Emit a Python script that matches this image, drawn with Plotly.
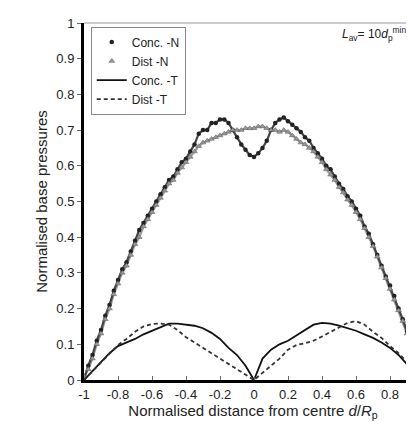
import plotly.graph_objects as go

# x positions
x_n = [round(-1 + 0.025 * i, 3) for i in range(81)]
x_t = [round(-1 + 0.05 * i, 2) for i in range(41)]

conc_n = [0.00, 0.04, 0.07, 0.11, 0.14, 0.18, 0.21, 0.25, 0.28, 0.31,
          0.33, 0.36, 0.39, 0.42, 0.44, 0.46, 0.48, 0.50, 0.52, 0.54,
          0.56, 0.57, 0.59, 0.61, 0.62, 0.64, 0.66, 0.69, 0.70, 0.70,
          0.72, 0.72, 0.73, 0.73, 0.72, 0.70, 0.68, 0.66, 0.645, 0.63,
          0.625, 0.635, 0.65, 0.67, 0.70, 0.72, 0.73, 0.735, 0.725, 0.715,
          0.705, 0.695, 0.68, 0.67, 0.65, 0.635, 0.62, 0.60, 0.59, 0.57,
          0.55, 0.535, 0.515, 0.50, 0.48, 0.46, 0.43, 0.41, 0.38, 0.35,
          0.32, 0.29, 0.265, 0.235, 0.20, 0.17, 0.135, 0.10, 0.065, 0.03,
          0.00]

dist_n = [0.01, 0.03, 0.06, 0.10, 0.13, 0.17, 0.20, 0.24, 0.27, 0.30,
          0.32, 0.35, 0.38, 0.40, 0.43, 0.45, 0.47, 0.49, 0.51, 0.53,
          0.55, 0.56, 0.58, 0.595, 0.61, 0.625, 0.64, 0.655, 0.665, 0.67,
          0.675, 0.68, 0.685, 0.69, 0.695, 0.70, 0.70, 0.70, 0.705, 0.705,
          0.705, 0.71, 0.71, 0.705, 0.70, 0.70, 0.695, 0.70, 0.695, 0.685,
          0.675, 0.665, 0.66, 0.65, 0.64, 0.625, 0.61, 0.59, 0.575, 0.56,
          0.54, 0.525, 0.505, 0.49, 0.47, 0.45, 0.425, 0.40, 0.375, 0.345,
          0.315, 0.285, 0.255, 0.225, 0.195, 0.165, 0.13, 0.095, 0.06, 0.03,
          0.005]

conc_t = [0.00, 0.025, 0.05, 0.075, 0.095, 0.105, 0.115, 0.128, 0.138, 0.15,
          0.158, 0.158, 0.155, 0.152, 0.145, 0.132, 0.115, 0.09, 0.07, 0.04,
          0.00, 0.06, 0.085, 0.10, 0.11, 0.125, 0.14, 0.155, 0.16, 0.158,
          0.152, 0.145, 0.138, 0.128, 0.118, 0.105, 0.09, 0.07, 0.045, 0.018,
          0.00]

dist_t = [0.00, 0.025, 0.05, 0.075, 0.098, 0.115, 0.135, 0.15, 0.157, 0.158,
          0.155, 0.14, 0.12, 0.105, 0.09, 0.075, 0.06, 0.045, 0.03, 0.015,
          0.00, 0.02, 0.04, 0.06, 0.085, 0.098, 0.103, 0.11, 0.122, 0.135,
          0.148, 0.16, 0.165, 0.155, 0.135, 0.118, 0.095, 0.075, 0.05, 0.025,
          0.00]

x_tickvals = [-1, -0.8, -0.6, -0.4, -0.2, 0, 0.2, 0.4, 0.6, 0.8]
x_ticktext = ["-1", "-0.8", "-0.6", "-0.4", "-0.2", "0", "0.2", "0.4", "0.6", "0.8"]
y_tickvals = [0, 0.1, 0.2, 0.3, 0.4, 0.5, 0.6, 0.7, 0.8, 0.9, 1]
y_ticktext = ["0", "0.1", "0.2", "0.3", "0.4", "0.5", "0.6", "0.7", "0.8", "0.9", "1"]

FONT = "Liberation Sans, Arial, sans-serif"

fig = go.Figure()
# connecting jagged lines for the marker series (no legend)
fig.add_trace(go.Scatter(x=x_n, y=dist_n, mode="lines", showlegend=False,
                         hoverinfo="skip", line=dict(color="#9a9a9a", width=2.2)))
fig.add_trace(go.Scatter(x=x_n, y=conc_n, mode="lines", showlegend=False,
                         hoverinfo="skip", line=dict(color="#444", width=2.2)))

fig.add_trace(go.Scatter(x=x_n, y=conc_n, mode="markers", name="Conc. -N",
                         marker=dict(symbol="circle", size=4.5, color="#222")))
fig.add_trace(go.Scatter(x=x_n, y=dist_n, mode="markers", name="Dist -N",
                         marker=dict(symbol="triangle-up", size=5, color="#999",
                                     line=dict(width=0.6, color="#666"))))
fig.add_trace(go.Scatter(x=x_t, y=conc_t, mode="lines", name="Conc. -T",
                         line=dict(color="#111", width=1.8)))
fig.add_trace(go.Scatter(x=x_t, y=dist_t, mode="lines", name="Dist -T",
                         line=dict(color="#333", width=1.8, dash="4px,3px")))

fig.update_layout(
    width=414, height=425,
    margin=dict(l=76, r=0, t=15, b=53),
    plot_bgcolor="white", paper_bgcolor="white",
    font=dict(family=FONT, size=13, color="#222"),
    showlegend=True,
    legend=dict(x=0.02, y=0.99, xanchor="left", yanchor="top",
                bgcolor="white", bordercolor="#888", borderwidth=1,
                font=dict(size=12, color="#222"), traceorder="normal",
                itemwidth=30, tracegroupgap=0),
    xaxis=dict(range=[-1, 0.988], tickvals=x_tickvals, ticktext=x_ticktext,
               showgrid=False, zeroline=False, showline=True, linecolor="black",
               linewidth=3, ticks="inside", ticklen=4, tickcolor="#666",
               tickfont=dict(size=13, color="#222"),
               title=dict(text="Normalised distance from centre <i>d</i>/<i>R</i><sub>p</sub>",
                          font=dict(size=15, color="#222"), standoff=4)),
    yaxis=dict(range=[0, 1], tickvals=y_tickvals, ticktext=y_ticktext,
               showgrid=False, zeroline=False, showline=True, linecolor="black",
               linewidth=3, ticks="outside", ticklen=4, tickcolor="#666",
               tickfont=dict(size=13, color="#222"),
               title=dict(text="Normalised base pressures",
                          font=dict(size=15, color="#222"), standoff=6)),
    shapes=[dict(type="line", xref="paper", yref="paper", x0=0, x1=1, y0=1, y1=1,
                 line=dict(color="#999", width=1))],
    annotations=[dict(xref="paper", yref="paper", x=0.96, y=0.97, xanchor="right",
                      yanchor="middle", showarrow=False,
                      text="<i>L</i><sub>av</sub>= 10<i>d</i><sub>p</sub><sup>min</sup>",
                      font=dict(size=12, color="#222"))],
)

fig.write_html("out.html")
